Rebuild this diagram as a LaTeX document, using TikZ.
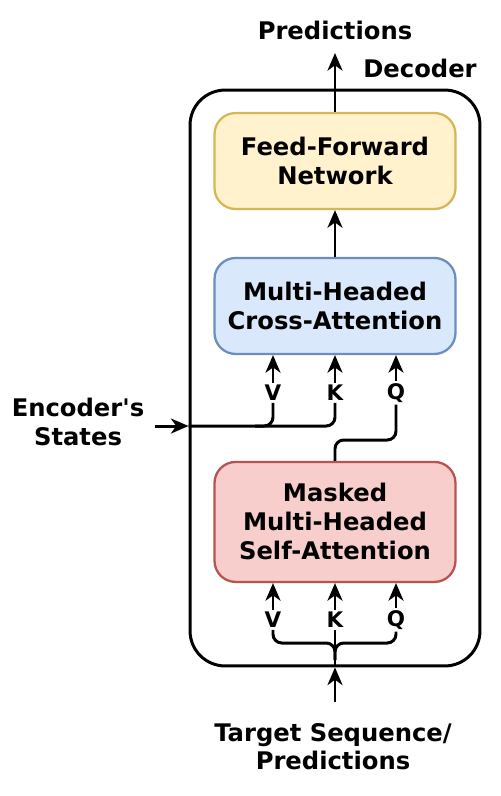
\documentclass[tikz,border=0pt]{standalone}
\usepackage{fontspec}
\setmainfont{DejaVu Sans}
\usetikzlibrary{arrows.meta,positioning}

\definecolor{ffFill}{HTML}{FFF2CC}
\definecolor{ffLine}{HTML}{D6B656}
\definecolor{caFill}{HTML}{DAE8FC}
\definecolor{caLine}{HTML}{6C8EBF}
\definecolor{saFill}{HTML}{F8CECC}
\definecolor{saLine}{HTML}{B85450}

\tikzset{
  block/.style={rounded corners=12pt,line width=1.3pt,minimum width=4.82cm,
    minimum height=1.92cm,align=center,font=\bfseries\fontsize{13.8}{16.5}\selectfont},
  lbl/.style={font=\bfseries\fontsize{13.8}{16}\selectfont,align=center,inner sep=1pt},
  qkv/.style={font=\bfseries\fontsize{12.2}{14}\selectfont,inner sep=1pt},
  wire/.style={line width=1.7pt,rounded corners=5pt},
  arr/.style={line width=1.7pt,-{Stealth[length=10pt,width=8.5pt,inset=3pt]}}
}

\begin{document}
\begin{tikzpicture}[x=0.02cm,y=-0.02cm,node distance=2.9cm]
\useasboundingbox (0,0) rectangle (501,796);

\node[draw,line width=1.7pt,rounded corners=20pt,minimum width=5.8cm,minimum height=11.52cm] (dec) at (335,378) {};
\node[lbl] (dlabel) at (420,68) {Decoder};

\node[block,fill=ffFill,draw=ffLine] (ff) at (335,161) {Feed-Forward\\Network};
\node[block,fill=caFill,draw=caLine] (cross) [below of=ff] {Multi-Headed\\Cross-Attention};
\node[block,fill=saFill,draw=saLine,minimum height=2.4cm] (masked) [below of=cross,node distance=4.32cm] {Masked\\Multi-Headed\\Self-Attention};

\node[lbl] (pred) at (335,30) {Predictions};
\node[lbl] (enc) at (78,422) {Encoder\textquotesingle s\\States};
\node[lbl] (target) at (333,747) {Target Sequence/\\Predictions};

% cross-attention inputs
\node[qkv] (v1) at (273,393) {V};
\node[qkv] (k1) at (335,393) {K};
\node[qkv] (q1) at (396,393) {Q};
% self-attention inputs
\node[qkv] (v2) at (273,620) {V};
\node[qkv] (k2) at (335,620) {K};
\node[qkv] (q2) at (396,620) {Q};

\coordinate (in) at (dec.west |- 0,426);
\coordinate (split) at (335,643);

\draw[arr] (ff.north) -- (335,53);
\draw[arr] (cross.north) -- (ff.south);

\draw[arr] (v1.north) -- (v1.north |- cross.south);
\draw[arr] (k1.north) -- (k1.north |- cross.south);
\draw[arr] (q1.north) -- (q1.north |- cross.south);

\draw[arr] (155,426) -- (in);
\draw[wire] (in) -- (335,426) -- (k1.south);
\draw[wire] (v1.south) -- (273,426) -- (255,426);
\draw[wire] (q1.south) -- (396,440) -- (335,440) -- (masked.north);

\draw[arr] (v2.north) -- (v2.north |- masked.south);
\draw[arr] (k2.north) -- (k2.north |- masked.south);
\draw[arr] (q2.north) -- (q2.north |- masked.south);

\draw[wire] (v2.south) -- (v2.south |- split) -- (split) -- (335,660);
\draw[wire] (q2.south) -- (q2.south |- split) -- (split) -- (335,660);
\draw[wire] (k2.south) -- (dec.south);
\draw[arr] (335,702) -- (dec.south);

\end{tikzpicture}
\end{document}
